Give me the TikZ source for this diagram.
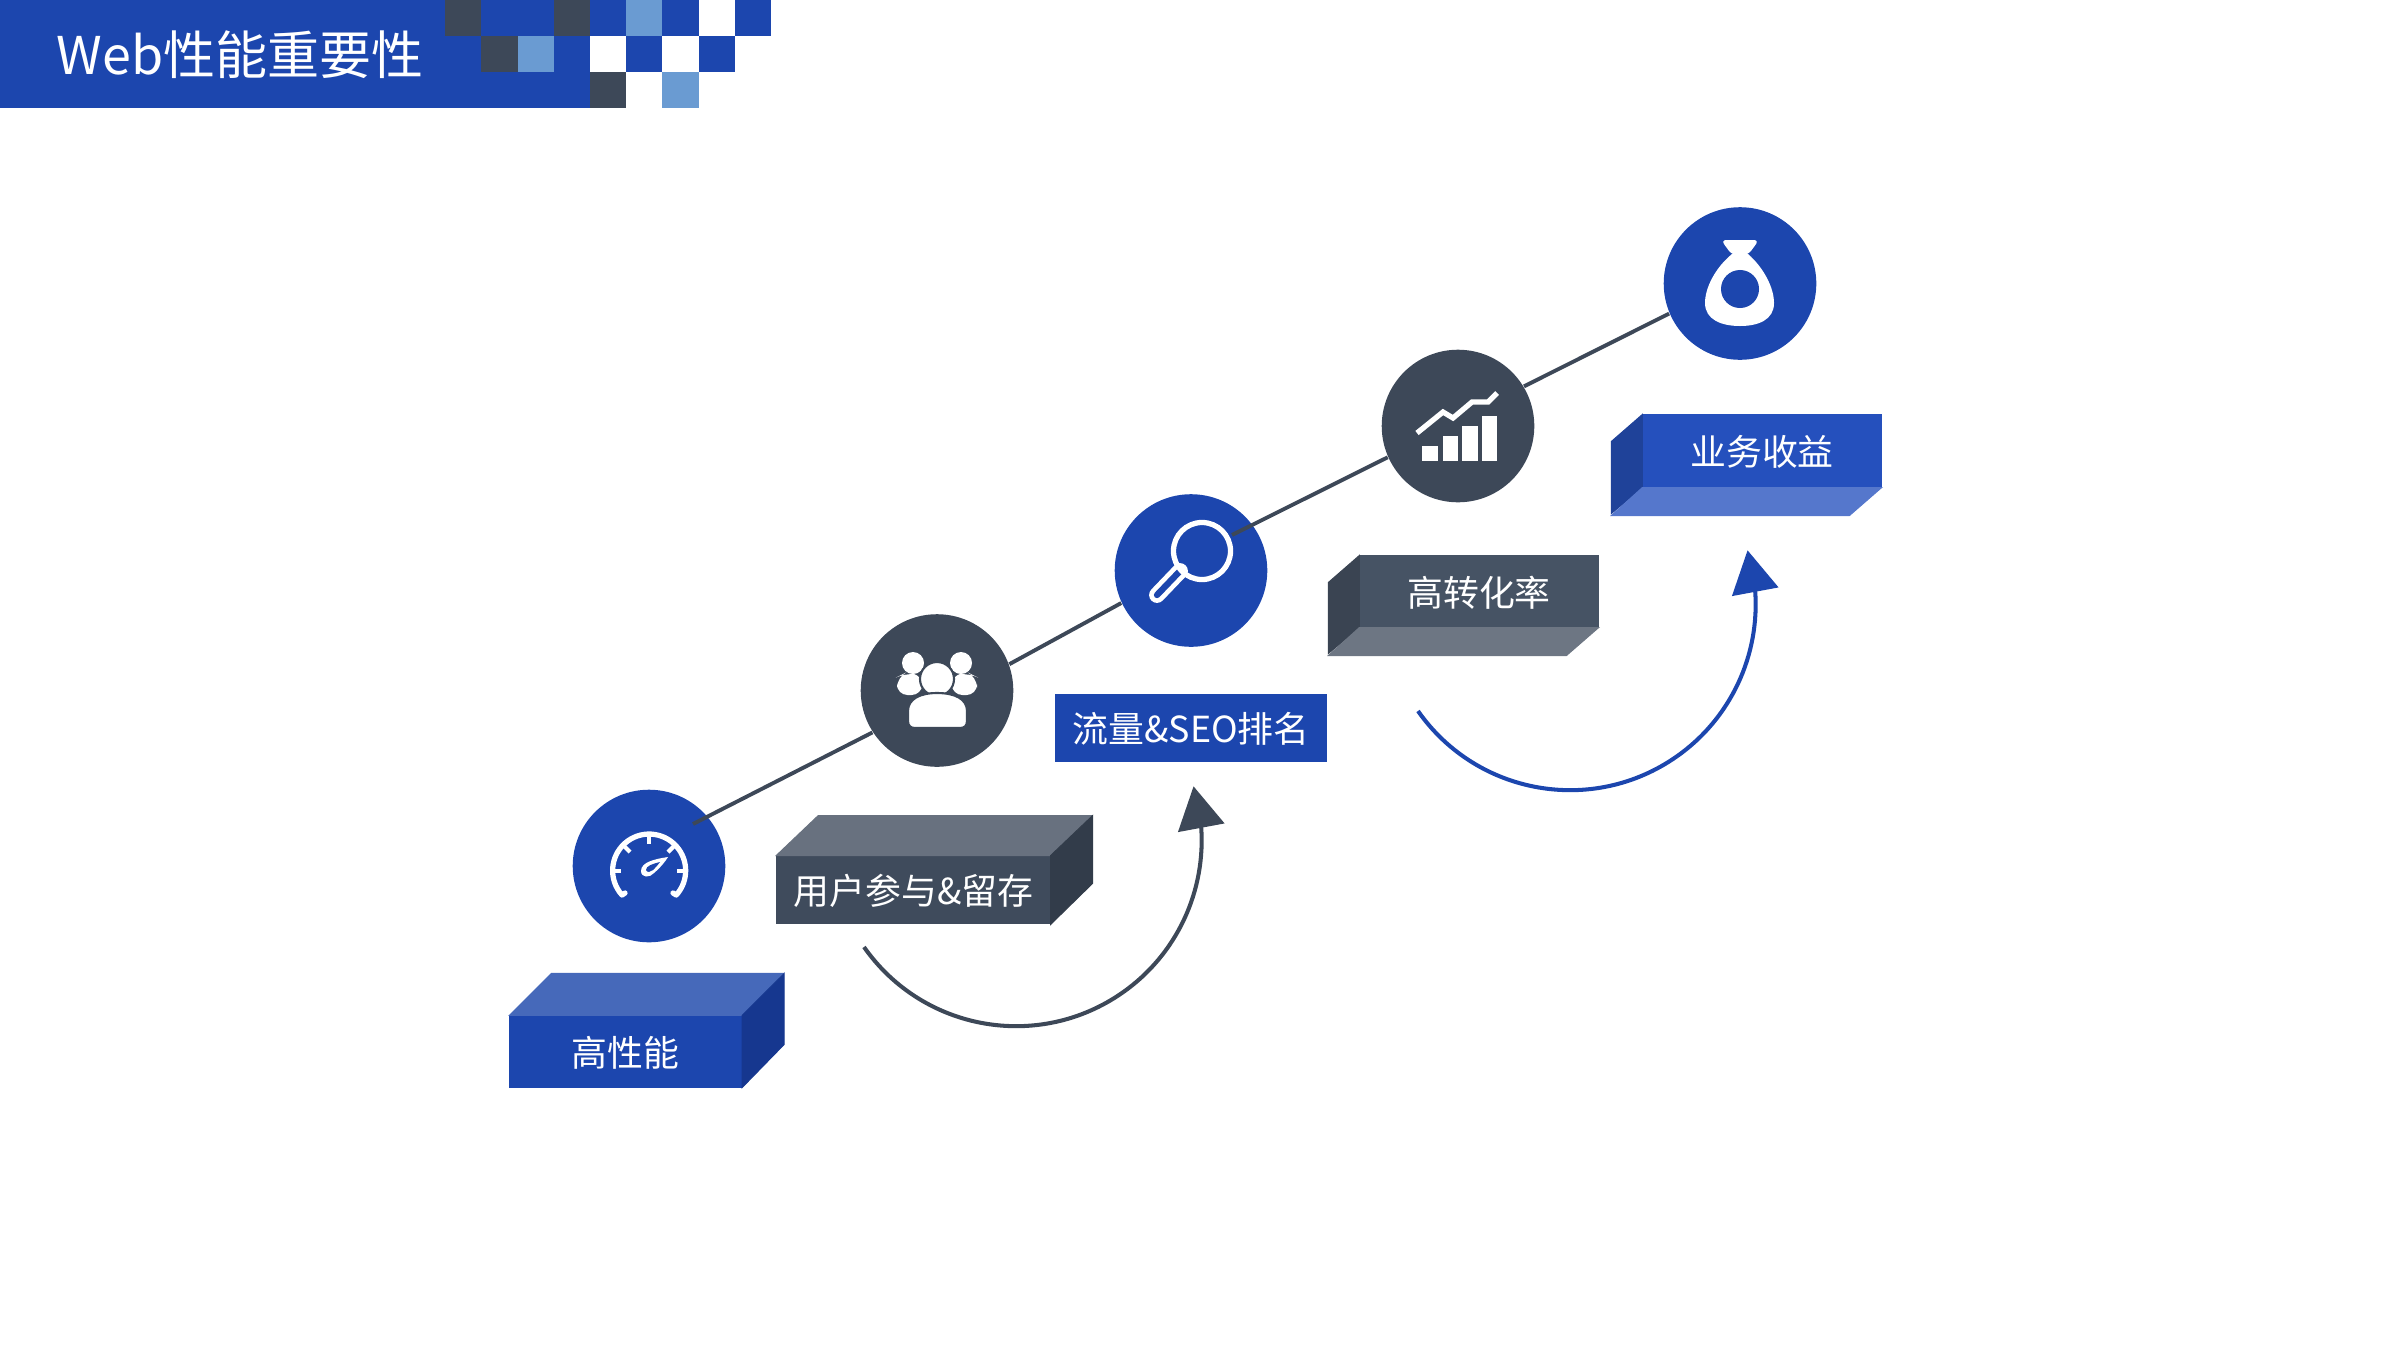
\documentclass[tikz,border=0pt]{standalone}
\usepackage{fontspec}
\setmainfont{Noto Sans CJK SC}
\usetikzlibrary{arrows.meta,bending}
\definecolor{bluemain}{HTML}{1C46AE}
\definecolor{bluetop}{HTML}{4669BA}
\definecolor{blueside}{HTML}{16378F}
\definecolor{bluefront}{HTML}{2550BD}
\definecolor{blueleft}{HTML}{1F4299}
\definecolor{bluelow}{HTML}{5577CC}
\definecolor{slatemain}{HTML}{3D4858}
\definecolor{slatefront}{HTML}{465364}
\definecolor{slatedeep}{HTML}{3F4B5C}
\definecolor{slatetop}{HTML}{68717F}
\definecolor{slateside}{HTML}{323C4A}
\definecolor{slateleft}{HTML}{3A4452}
\definecolor{slatelow}{HTML}{6D7683}
\definecolor{skyblue}{HTML}{6A9BD2}
\tikzset{
	disc/.style={circle,minimum size=1.525cm,inner sep=0pt},
	front/.style={rectangle,inner sep=0pt,text=white,text height=10pt,text depth=1.6pt,font=\fontsize{10.2pt}{12pt}\selectfont},
	face/.style={fill=#1,draw=#1,line width=0.3pt},
	rail/.style={slatemain,line width=1.1pt},
	swing/.style={line width=1.15pt,-{Triangle[length=12pt,width=13.2pt]}},
	glyph/.style={white,line width=1.5pt}
}
\begin{document}
\begin{tikzpicture}[x=0.01cm,y=-0.01cm]
	\useasboundingbox (0,0) rectangle (2400,1351);
	% header
	\fill[bluemain] (0,0) rectangle (590,108);
	\fill[white] (590,0) rectangle (800,108);
	\fill[slatemain] (445,0) rectangle (481,36);
	\fill[slatemain] (553.5,0) rectangle (590,36);
	\fill[bluemain] (590,0) rectangle (626,36);
	\fill[skyblue] (626,0) rectangle (662,36);
	\fill[bluemain] (662,0) rectangle (698.5,36);
	\fill[bluemain] (735,0) rectangle (771,36);
	\fill[slatemain] (481,36) rectangle (517.5,72);
	\fill[skyblue] (517.5,36) rectangle (553.5,72);
	\fill[bluemain] (626,36) rectangle (662,72);
	\fill[bluemain] (698.5,36) rectangle (735,72);
	\fill[slatemain] (590,72) rectangle (626,108);
	\fill[skyblue] (662,72) rectangle (698.5,108);
	\node[text=white,inner sep=0pt,font=\fontsize{14.8pt}{18pt}\selectfont] (title) at (240,55) {Web性能重要性};
	% discs
	\node[disc,fill=bluemain] (speed) at (649,866) {};
	\node[disc,fill=slatemain] (users) at (937,690.5) {};
	\node[disc,fill=bluemain] (search) at (1191,570.5) {};
	\node[disc,fill=slatemain] (chart) at (1458,426) {};
	\node[disc,fill=bluemain] (money) at (1740,283.5) {};
	% rail
	\coordinate (speedin) at (693,824);
	\coordinate (searchin) at (1232,535);
	\draw[rail] (speedin) -- (users.213);
	\draw[rail] (users.20) -- (search.205);
	\draw[rail] (searchin) -- (chart.204);
	\draw[rail] (chart.31) -- (money.203);
	% boxes
	\node[front,face=bluemain,minimum width=2.315cm,minimum height=0.71cm] (perf) at (625.75,1051.5) {高性能};
	\path[face=bluetop] (perf.north west) -- ++(42,-42) -- ++(231.5,0) -- (perf.north east) -- cycle;
	\path[face=blueside] (perf.north east) -- ++(42,-42) -- ++(0,71) -- (perf.south east) -- cycle;
	\node[front,face=slatedeep,minimum width=2.732cm,minimum height=0.677cm] (engage) at (913.4,890) {用户参与\&留存};
	\path[face=slatetop] (engage.north west) -- ++(42,-40) -- ++(273.2,0) -- (engage.north east) -- cycle;
	\path[face=slateside] (engage.north east) -- ++(42,-40) -- ++(0,67.7) -- (engage.south east) -- cycle;
	\node[front,face=bluemain,minimum width=2.7cm,minimum height=0.66cm] (traffic) at (1191,728) {流量\&SEO排名};
	\node[front,face=slatefront,minimum width=2.38cm,minimum height=0.71cm] (convert) at (1479,591.5) {高转化率};
	\path[face=slateleft] (convert.north west) -- ++(-31,27) -- ++(0,71) -- (convert.south west) -- cycle;
	\path[face=slatelow] (convert.south west) -- ++(-31,28) -- ++(238,0) -- (convert.south east) -- cycle;
	\node[front,face=bluefront,minimum width=2.38cm,minimum height=0.72cm] (income) at (1762,451) {业务收益};
	\path[face=blueleft] (income.north west) -- ++(-31,27) -- ++(0,72) -- (income.south west) -- cycle;
	\path[face=bluelow] (income.south west) -- ++(-31,28) -- ++(238,0) -- (income.south east) -- cycle;
	% curved arrows
	\coordinate (swingone) at (864,947);
	\coordinate (swingtwo) at (1418,711);
	\draw[swing,slatemain] (swingone) arc[start angle=215,end angle=377,radius=1.855cm];
	\draw[swing,bluemain] (swingtwo) arc[start angle=215,end angle=377,radius=1.855cm];
	% gauge icon
	\draw[glyph,line cap=round,line join=round] (625,893) -- (622,895) arc[start angle=222,end angle=-42,radius=0.365cm] -- (673,893);
	\draw[glyph,line width=1.2pt] (649,834) -- (649,844);
	\draw[glyph,line width=1.2pt] (623,845) -- (630,852);
	\draw[glyph,line width=1.2pt] (675,845) -- (668,852);
	\draw[glyph,line width=1.2pt] (612,871) -- (621,871);
	\draw[glyph,line width=1.2pt] (686,871) -- (677,871);
	\fill[white] (668,857) .. controls (655,859) and (641,862) .. (641,871) .. controls (641,878) and (650,878) .. (654,873) .. controls (660,868) and (665,862) .. (668,857) -- cycle;
	\fill[bluemain] (660,862) .. controls (652,864) and (646,866) .. (646,870) .. controls (647,873) and (651,872) .. (653,870) .. controls (656,867) and (658,865) .. (660,862) -- cycle;
	% people icon
	\fill[white] (913,663) circle (0.11cm);
	\fill[white] (961,663) circle (0.11cm);
	\fill[white,rounded corners=3pt] (905,673) -- (923,675) -- (922,695) -- (897,695) -- (897,677) -- cycle;
	\fill[white,rounded corners=3pt] (969,673) -- (951,675) -- (952,695) -- (977,695) -- (977,677) -- cycle;
	\filldraw[white,draw=slatemain,line width=0.6pt] (937,679) circle (0.17cm);
	\filldraw[white,draw=slatemain,line width=0.6pt] (908,711) .. controls (908,699) and (920,693) .. (937,693) .. controls (955,693) and (967,699) .. (967,711) -- (967,721) .. controls (967,726) and (964,728) .. (960,728) -- (915,728) .. controls (911,728) and (908,726) .. (908,721) -- cycle;
	% magnifier icon
	\draw[white,line width=4.5pt,line cap=round] (1180,571) -- (1157,595);
	\draw[bluemain,line width=1.8pt,line cap=round] (1180,571) -- (1157,595);
	\draw[glyph] (1202,551) circle (0.285cm);
	% chart icon
	\fill[white] (1422,446) rectangle (1438,461);
	\fill[white] (1443,436) rectangle (1458,461);
	\fill[white] (1462,426) rectangle (1478,461);
	\fill[white] (1482,416) rectangle (1497,461);
	\draw[glyph] (1417,433) -- (1443,412) -- (1453,418) -- (1472,402) -- (1488,402) -- (1497,393);
	% bag icon
	\fill[white,rounded corners=1.5pt] (1721,240) -- (1759,240) -- (1748,255) -- (1732,255) -- cycle;
	\fill[white] (1732,254) .. controls (1715,268) and (1705,288) .. (1705,303) .. controls (1705,320) and (1722,326) .. (1740,326) .. controls (1758,326) and (1774,320) .. (1774,303) .. controls (1774,288) and (1764,268) .. (1748,254) -- cycle;
	\fill[bluemain] (1740,289) circle (0.19cm);
\end{tikzpicture}
\end{document}
